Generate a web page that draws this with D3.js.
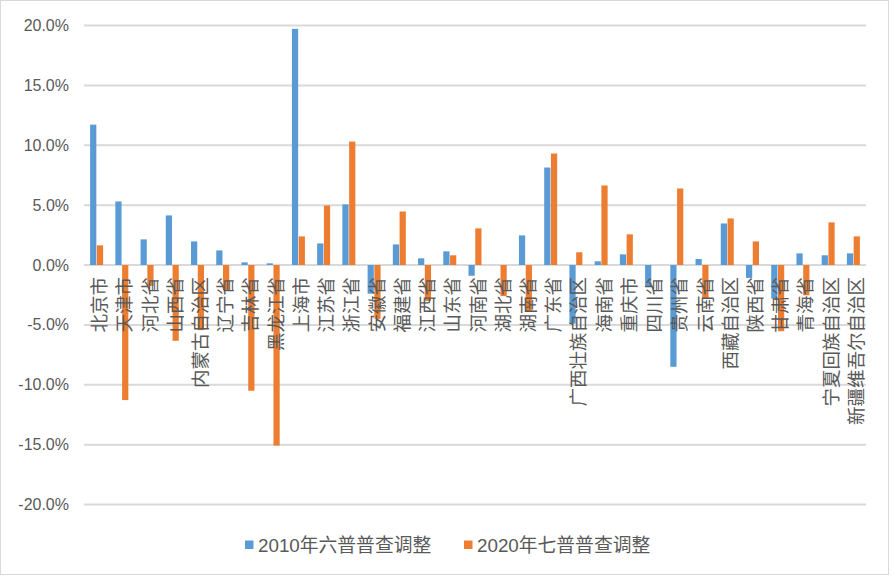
<!DOCTYPE html>
<html>
<head>
<meta charset="utf-8">
<script src="https://cdn.jsdelivr.net/npm/d3@7"></script>
<style>
  html, body { margin: 0; padding: 0; background: #fff; }
  svg { display: block; }
</style>
</head>
<body>
<svg id="chart" width="892" height="577"></svg>
<script>
const provinces = ["北京市","天津市","河北省","山西省","内蒙古自治区","辽宁省","吉林省","黑龙江省","上海市","江苏省","浙江省","安徽省","福建省","江西省","山东省","河南省","湖北省","湖南省","广东省","广西壮族自治区","海南省","重庆市","四川省","贵州省","云南省","西藏自治区","陕西省","甘肃省","青海省","宁夏回族自治区","新疆维吾尔自治区"];
const values2010 = [11.72,5.31,2.14,4.14,1.97,1.22,0.22,0.14,19.72,1.80,5.06,-2.4,1.72,0.56,1.14,-0.9,0.0,2.47,8.14,-4.9,0.31,0.89,-1.83,-8.5,0.5,3.47,-1.08,-2.8,0.97,0.81,0.97];
const values2020 = [1.64,-11.28,-1.75,-6.33,-5.44,-2.1,-10.5,-15.08,2.39,4.97,10.31,-4.5,4.47,-3.0,0.81,3.06,-2.6,-3.9,9.31,1.06,6.64,2.56,0.0,6.39,-2.75,3.89,1.97,-5.53,-2.53,3.56,2.39];
const seriesNames = ["2010年六普普查调整","2020年七普普查调整"];
const yTicks = [-20,-15,-10,-5,0,5,10,15,20];

const colors = ["#5B9BD5","#ED7D31"];
const svg = d3.select("#chart");

// chart border
svg.append("rect").attr("x",0.5).attr("y",0.5).attr("width",888).attr("height",574)
  .attr("fill","#fff").attr("stroke","#d9d9d9").attr("stroke-width",1);

const x0 = d3.scaleBand().domain(provinces).range([84,866]).paddingInner(0.485).paddingOuter(0.2425);
const x1 = d3.scaleBand().domain([0,1]).range([0,x0.bandwidth()]).paddingInner(0.08);
const y = d3.scaleLinear().domain([-20,20]).range([504.5,25.5]);

// gridlines
svg.append("g").selectAll("line").data(yTicks).join("line")
  .attr("x1",84).attr("x2",866)
  .attr("y1",d=>y(d)).attr("y2",d=>y(d))
  .attr("stroke","#d9d9d9").attr("stroke-width",2);

// y tick labels
svg.append("g").selectAll("text").data(yTicks).join("text")
  .attr("x",69).attr("y",d=>y(d))
  .attr("text-anchor","end").attr("dominant-baseline","central")
  .attr("font-family","'Liberation Sans', Arial, sans-serif").attr("font-size",16)
  .attr("fill","#595959")
  .text(d=>d.toFixed(1)+"%");

// bars
const series = [values2010, values2020];
const gBars = svg.append("g");
series.forEach((vals, si) => {
  gBars.append("g").selectAll("rect").data(provinces.map((p,i)=>({p, v: vals[i]}))).join("rect")
    .attr("x", d => x0(d.p) + x1(si))
    .attr("width", x1.bandwidth())
    .attr("y", d => y(Math.max(0,d.v)))
    .attr("height", d => Math.abs(y(d.v) - y(0)))
    .attr("fill", colors[si]);
});

// category labels (rotated, over bars)
svg.append("g").selectAll("text").data(provinces).join("text")
  .attr("transform", d => `translate(${x0(d)+x0.bandwidth()/2+1.5},277) rotate(-90)`)
  .attr("text-anchor","end").attr("dominant-baseline","central")
  .attr("font-family","'Noto Sans CJK SC', sans-serif").attr("font-size",18.5)
  .attr("fill","#595959")
  .text(d=>d);

// legend
const legendX = [245, 464];
const lg = svg.append("g");
seriesNames.forEach((name, i) => {
  lg.append("rect").attr("x",legendX[i]).attr("y",540.5).attr("width",8.5).attr("height",8.5).attr("fill",colors[i]);
  lg.append("text").attr("x",legendX[i]+13).attr("y",552)
    .attr("font-family","'Liberation Sans', 'Noto Sans CJK SC', sans-serif").attr("font-size",18.8)
    .attr("fill","#595959").text(name);
});
</script>
</body>
</html>
